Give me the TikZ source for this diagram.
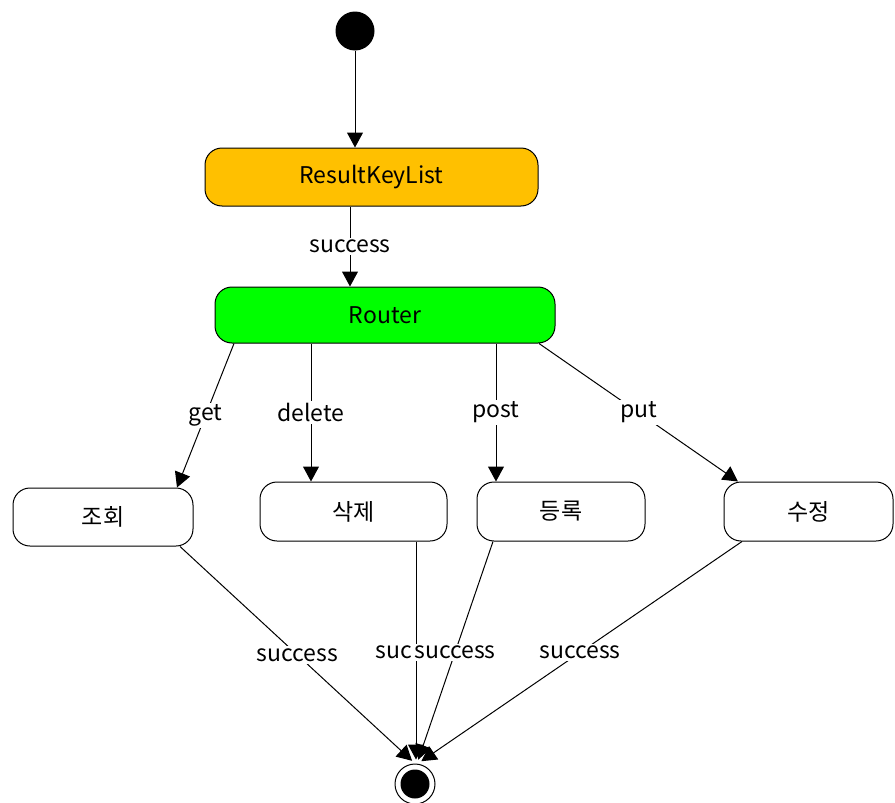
\documentclass[tikz,border=0pt]{standalone}
\usepackage{fontspec}
\setmainfont{Noto Sans CJK KR}
\usetikzlibrary{arrows.meta}
\begin{document}
\begin{tikzpicture}[x=1pt,y=-1pt,
  every node/.style={font=\fontsize{23}{27}\selectfont},
  statebox/.style={draw=black, line width=1pt, rounded corners=17, align=center, inner sep=0pt},
  lbl/.style={fill=white, inner sep=2pt},
  arr/.style={draw=black, line width=1pt, -{Triangle[length=15,width=16]}},
  ln/.style={draw=black, line width=1pt}
]
\useasboundingbox (0,0) rectangle (895,803);
% initial state
\node[circle, fill=black, minimum size=39, inner sep=0pt] (start) at (355,31) {};
% states
\node[statebox, fill={rgb,255:red,255;green,192;blue,0}, minimum width=333, minimum height=58] (rkl) at (371.5,177) {ResultKeyList};
\node[statebox, fill={rgb,255:red,0;green,255;blue,0}, minimum width=340, minimum height=56] (router) at (385,315) {Router};
\node[statebox, fill=white, minimum width=180, minimum height=58] (jo) at (103,517) {조회};
\node[statebox, fill=white, minimum width=187, minimum height=59] (sak) at (353.5,511.5) {삭제};
\node[statebox, fill=white, minimum width=168, minimum height=59] (deung) at (561,511.5) {등록};
\node[statebox, fill=white, minimum width=169, minimum height=59] (su) at (808.5,511.5) {수정};
% final state
\node[circle, draw=black, line width=1pt, fill=white, minimum size=40, inner sep=0pt] (final) at (415,784) {};
\node[circle, fill=black, minimum size=29, inner sep=0pt] (finalin) at (final) {};
% transitions
\draw[arr] (start) -- (start |- rkl.north);
\draw[arr] ([xshift=-21.5]rkl.south) -- node[lbl, pos=0.5] {success} ([xshift=-35]router.north);
\draw[arr] ([xshift=-151]router.south) -- node[lbl, pos=0.5] {get} ([xshift=74]jo.north);
\draw[arr] ([xshift=-74]router.south) -- node[lbl, pos=0.5] {delete} ([xshift=-42.5]sak.north);
\draw[arr] ([xshift=111]router.south) -- node[lbl, pos=0.5] {post} ([xshift=-65]deung.north);
\draw[arr] ([xshift=154]router.south) -- node[lbl, pos=0.5] {put} ([xshift=-70.5]su.north);
\draw[arr, shorten >=4pt] ([xshift=77]jo.south) -- node[lbl, pos=0.5] {success} (final.north);
\draw[arr, shorten >=4pt] ([xshift=62.5]sak.south) -- node[lbl, pos=0.5] {success} ([xshift=1]final.north);
\draw[arr, shorten >=4pt] ([xshift=-68]deung.south) -- node[lbl, pos=0.5] {success} ([xshift=2]final.north);
\draw[arr, shorten >=4pt] ([xshift=-66.5]su.south) -- node[lbl, pos=0.5] {success} ([xshift=3]final.north);
\end{tikzpicture}
\end{document}
